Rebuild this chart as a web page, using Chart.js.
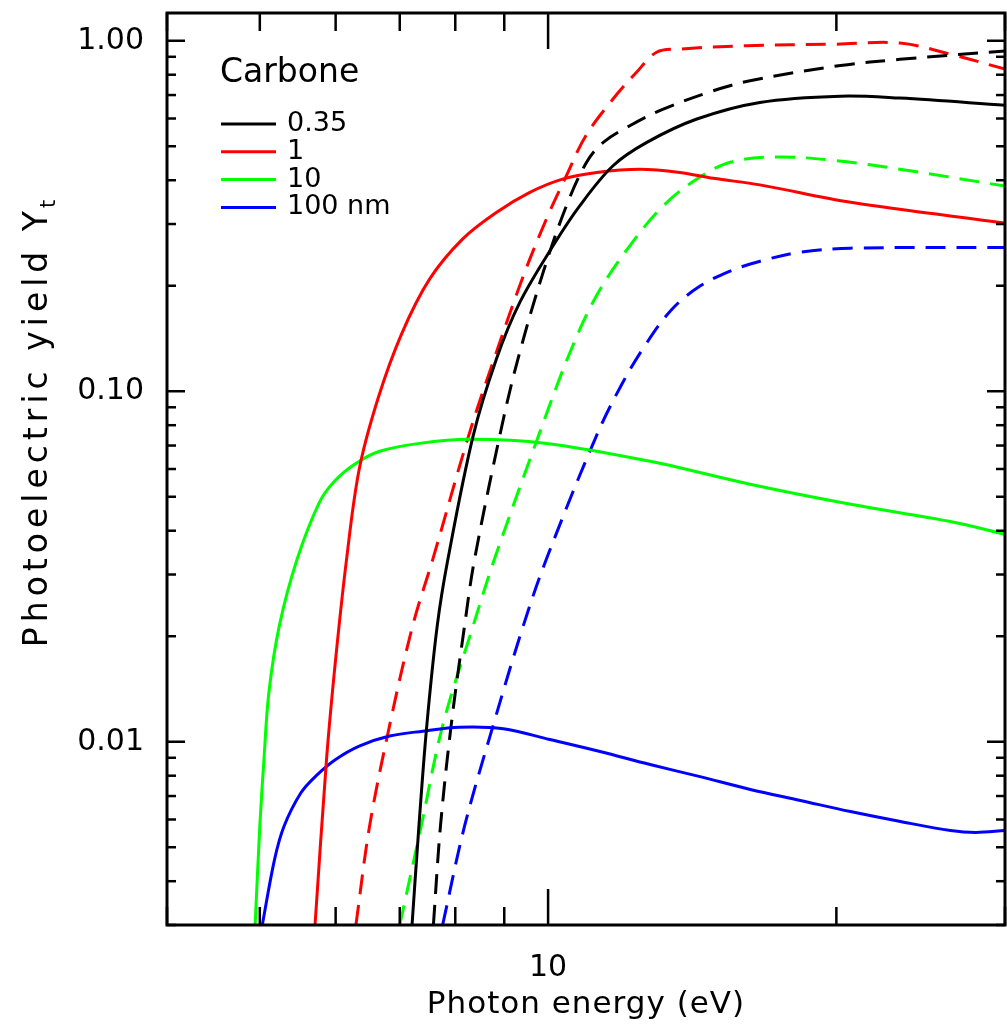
<!DOCTYPE html>
<html>
<head>
<meta charset="utf-8">
<script src="https://cdn.jsdelivr.net/npm/chart.js@4.4.1/dist/chart.umd.min.js"></script>
<style>
  html, body { margin: 0; padding: 0; background: #fff; }
</style>
</head>
<body>
<canvas id="myChart" width="1007" height="1031"></canvas>
<script>
// DATA (photon energy in eV, photoelectric yield)

const sizeLabels = ["0.35", "1", "10", "100 nm"];
const sizeColors = ["#000000", "#ff0000", "#00ff00", "#0000ff"];

// solid curves
const e035 = [7.21, 7.33, 7.47, 7.66, 7.86, 8.35, 8.83, 9.34, 10.12, 10.79, 11.69, 12.68, 14.3, 16.64, 20.2, 23.3, 30];
const y035 = [0.003, 0.00574, 0.0111, 0.0214, 0.0332, 0.0745, 0.1234, 0.179, 0.26, 0.338, 0.44, 0.513, 0.598, 0.667, 0.695, 0.686, 0.655];

const e1 = [5.71, 5.87, 6.0, 6.16, 6.35, 6.64, 7.03, 7.52, 8.14, 8.83, 9.57, 10.35, 11.24, 12.47, 13.73, 14.88, 16.64, 20.7, 30];
const y1 = [0.003, 0.0089, 0.0172, 0.0332, 0.0599, 0.0949, 0.1456, 0.2088, 0.2716, 0.3236, 0.3693, 0.4029, 0.421, 0.43, 0.421, 0.405, 0.388, 0.346, 0.302];

const e10 = [4.944, 5.0, 5.05, 5.11, 5.24, 5.47, 5.77, 5.98, 6.28, 6.67, 7.34, 8.28, 9.92, 12.78, 16.25, 20.7, 26.3, 30];
const y10 = [0.003, 0.00574, 0.0089, 0.0138, 0.0214, 0.0332, 0.0482, 0.0553, 0.0619, 0.0674, 0.071, 0.0729, 0.0711, 0.0631, 0.0543, 0.0476, 0.0425, 0.0391];

const e100 = [5.03, 5.18, 5.30, 5.52, 5.72, 6.0, 6.35, 6.83, 7.40, 8.08, 8.98, 10.04, 11.33, 12.78, 14.41, 16.26, 18.34, 20.69, 23.33, 26.32, 27.96, 30];
const y100 = [0.003, 0.00461, 0.00574, 0.00715, 0.00798, 0.0089, 0.00972, 0.01038, 0.01072, 0.011, 0.01089, 0.01015, 0.00938, 0.00861, 0.00795, 0.00731, 0.0068, 0.00632, 0.00592, 0.00558, 0.00551, 0.00558];

// dashed curves
const e035d = [7.59, 7.72, 7.92, 8.18, 8.38, 8.98, 9.34, 9.88, 10.45, 10.97, 11.42, 12.17, 13.19, 14.88, 16.25, 20.2, 23.3, 30];
const y035d = [0.003, 0.00574, 0.0111, 0.0214, 0.0332, 0.0832, 0.129, 0.218, 0.338, 0.45, 0.513, 0.572, 0.638, 0.72, 0.769, 0.85, 0.885, 0.935];

const e1d = [6.30, 6.51, 6.83, 7.22, 7.58, 8.28, 8.83, 9.42, 9.96, 10.45, 10.95, 11.69, 12.37, 12.98, 13.73, 16.12, 20.0, 23.3, 26.3, 30];
const y1d = [0.003, 0.00574, 0.0111, 0.0214, 0.0332, 0.0762, 0.129, 0.213, 0.31, 0.412, 0.536, 0.682, 0.813, 0.927, 0.947, 0.968, 0.978, 0.985, 0.916, 0.83];

const e10d = [7.0, 7.37, 7.76, 8.35, 8.79, 9.80, 10.54, 11.23, 12.17, 13.19, 14.3, 15.49, 17.3, 20.0, 23.3, 30];
const y10d = [0.003, 0.00574, 0.0111, 0.0214, 0.0332, 0.0762, 0.129, 0.187, 0.26, 0.338, 0.403, 0.45, 0.466, 0.455, 0.43, 0.385];

const e100d = [7.76, 8.18, 8.76, 9.42, 9.96, 11.23, 11.94, 12.65, 13.47, 14.41, 15.49, 16.65, 18.34, 20.69, 30];
const y100d = [0.003, 0.00574, 0.0111, 0.0214, 0.0332, 0.0745, 0.1047, 0.1362, 0.1714, 0.1995, 0.2202, 0.235, 0.2493, 0.256, 0.257];

// ticks
const xMajor = [10];
const xMinor = [4, 5, 6, 7, 8, 9, 20, 30];
const yMajor = [0.01, 0.1, 1];
const yMinor = [0.003, 0.004, 0.005, 0.006, 0.007, 0.008, 0.009,
  0.02, 0.03, 0.04, 0.05, 0.06, 0.07, 0.08, 0.09,
  0.2, 0.3, 0.4, 0.5, 0.6, 0.7, 0.8, 0.9];

const FONT = '"DejaVu Sans", "Liberation Sans", sans-serif';

function pts(es, ys) {
  return es.map((e, i) => ({ x: e, y: ys[i] }));
}

function curve(label, es, ys, color, dashed) {
  return {
    label: label,
    data: pts(es, ys),
    borderColor: color,
    backgroundColor: color,
    borderWidth: 3,
    borderDash: dashed ? [20, 11] : [],
    pointRadius: 0,
    tension: 0.35,
    fill: false,
    dashed: dashed
  };
}

// INSIDE TICKS, FRAME, TITLES & LEGEND

const insideAxes = {
  id: "insideAxes",
  afterDatasetsDraw(chart) {
    const ctx = chart.ctx;
    const a = chart.chartArea;
    const x = chart.scales.x;
    const y = chart.scales.y;

    function seg(x1, y1, x2, y2) {
      ctx.beginPath();
      ctx.moveTo(x1, y1);
      ctx.lineTo(x2, y2);
      ctx.stroke();
    }

    ctx.save();
    ctx.strokeStyle = "#000";
    ctx.lineWidth = 2.5;
    ctx.setLineDash([]);

    xMinor.forEach((v) => {
      const p = x.getPixelForValue(v);
      seg(p, a.bottom, p, a.bottom - 18);
      seg(p, a.top, p, a.top + 18);
    });
    xMajor.forEach((v) => {
      const p = x.getPixelForValue(v);
      seg(p, a.bottom, p, a.bottom - 36);
      seg(p, a.top, p, a.top + 36);
    });
    yMinor.forEach((v) => {
      const p = y.getPixelForValue(v);
      seg(a.left, p, a.left + 9, p);
      seg(a.right, p, a.right - 9, p);
    });
    yMajor.forEach((v) => {
      const p = y.getPixelForValue(v);
      seg(a.left, p, a.left + 18, p);
      seg(a.right, p, a.right - 18, p);
    });

    ctx.lineWidth = 3;
    ctx.strokeRect(a.left, a.top, a.right - a.left, a.bottom - a.top);
    ctx.restore();
  },
  afterDraw(chart) {
    const ctx = chart.ctx;
    const a = chart.chartArea;
    ctx.save();
    ctx.fillStyle = "#000";

    // x title
    ctx.font = "31px " + FONT;
    ctx.letterSpacing = "1px";
    ctx.textAlign = "center";
    ctx.textBaseline = "middle";
    ctx.fillText("Photon energy (eV)", (a.left + a.right) / 2, 1005);

    // y title with subscript
    ctx.translate(36, 420);
    ctx.rotate(-Math.PI / 2);
    const main = "Photoelectric yield Y";
    ctx.letterSpacing = "5px";
    ctx.font = "33px " + FONT;
    const wMain = ctx.measureText(main).width;
    ctx.font = "21px " + FONT;
    const wSub = ctx.measureText("t").width;
    const start = -(wMain + wSub) / 2;
    ctx.textAlign = "left";
    ctx.textBaseline = "alphabetic";
    ctx.font = "33px " + FONT;
    ctx.fillText(main, start, 11);
    ctx.font = "21px " + FONT;
    ctx.fillText("t", start + wMain - 2, 19);
    ctx.restore();

    // legend
    ctx.save();
    ctx.fillStyle = "#000";
    ctx.font = "33px " + FONT;
    ctx.textAlign = "left";
    ctx.textBaseline = "alphabetic";
    ctx.fillText("Carbone", 220, 82);
    ctx.font = "27px " + FONT;
    ctx.textBaseline = "middle";
    const solid = chart.data.datasets.filter((d) => !d.dashed);
    solid.forEach((d, i) => {
      const yy = 124 + i * 27.8;
      ctx.strokeStyle = d.borderColor;
      ctx.lineWidth = 3;
      ctx.beginPath();
      ctx.moveTo(221, yy);
      ctx.lineTo(276, yy);
      ctx.stroke();
      ctx.fillText(d.label, 287, yy);
    });
    ctx.restore();
  }
};

// DRAWING GRAPH

const ctx = document.getElementById("myChart").getContext("2d");

const myChart = new Chart(ctx, {
  type: "line",
  data: {
    datasets: [
      curve(sizeLabels[0], e035, y035, sizeColors[0], false),
      curve(sizeLabels[1], e1, y1, sizeColors[1], false),
      curve(sizeLabels[2], e10, y10, sizeColors[2], false),
      curve(sizeLabels[3], e100, y100, sizeColors[3], false),
      curve(sizeLabels[0], e035d, y035d, sizeColors[0], true),
      curve(sizeLabels[1], e1d, y1d, sizeColors[1], true),
      curve(sizeLabels[2], e10d, y10d, sizeColors[2], true),
      curve(sizeLabels[3], e100d, y100d, sizeColors[3], true)
    ]
  },
  options: {
    responsive: false,
    animation: false,
    layout: { padding: { left: 0, right: 2, top: 13, bottom: 0 } },
    plugins: {
      legend: { display: false },
      tooltip: { enabled: false },
      title: { display: false }
    },
    scales: {
      x: {
        type: "logarithmic",
        min: 4,
        max: 30,
        grid: { display: false },
        border: { display: false },
        afterBuildTicks: (scale) => {
          scale.ticks = xMajor.map((v) => ({ value: v }));
        },
        afterFit: (scale) => {
          scale.height = 106;
          scale.paddingLeft = 0;
          scale.paddingRight = 0;
        },
        ticks: {
          autoSkip: false,
          maxRotation: 0,
          padding: 17,
          color: "#000",
          font: { family: FONT, size: 30 },
          callback: (v) => String(v)
        }
      },
      y: {
        type: "logarithmic",
        min: 0.003,
        max: 1.2,
        grid: { display: false },
        border: { display: false },
        afterBuildTicks: (scale) => {
          scale.ticks = yMajor.map((v) => ({ value: v }));
        },
        afterFit: (scale) => {
          scale.width = 167;
          scale.paddingTop = 0;
          scale.paddingBottom = 0;
        },
        ticks: {
          autoSkip: false,
          padding: 15,
          color: "#000",
          font: { family: FONT, size: 30 },
          callback: (v) => Number(v).toFixed(2)
        }
      }
    }
  },
  plugins: [insideAxes]
});
</script>
</body>
</html>
